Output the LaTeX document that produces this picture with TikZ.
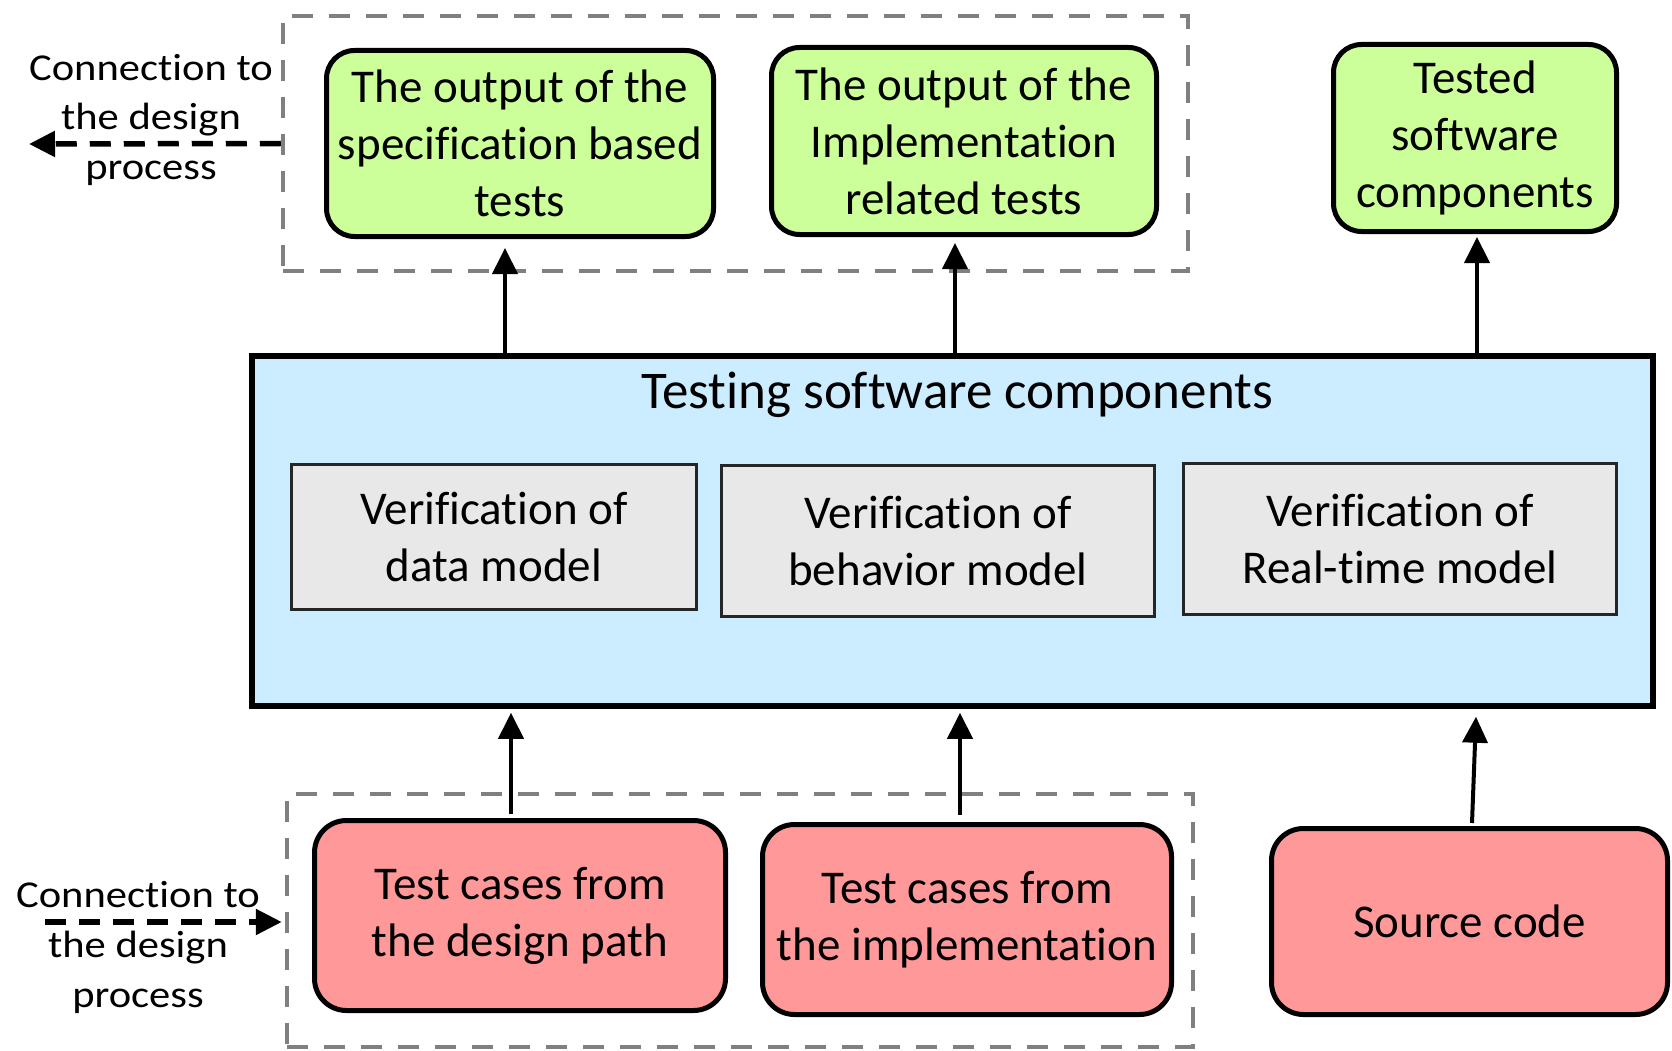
\documentclass[tikz,border=0pt]{standalone}
\usepackage{fontspec}
\setmainfont{Carlito}[Ligatures=NoCommon]
\newfontfamily\labelfont[FakeStretch=1.12,Ligatures=NoCommon]{Carlito}
\usetikzlibrary{arrows.meta}

\definecolor{outgreen}{HTML}{CCFF99}
\definecolor{inred}{HTML}{FF9999}
\definecolor{procblue}{HTML}{CCECFF}
\definecolor{subgray}{HTML}{E8E8E8}
\definecolor{groupgray}{HTML}{808080}

\tikzset{
  outbox/.style={draw=black, line width=5pt, fill=outgreen, rounded corners=28pt,
    align=center, inner sep=0pt, font=\fontsize{47}{57}\selectfont},
  inbox/.style={draw=black, line width=5pt, fill=inred, rounded corners=32pt,
    align=center, inner sep=0pt, font=\fontsize{47}{57}\selectfont},
  subbox/.style={draw=black!85, line width=2.5pt, fill=subgray,
    align=center, inner sep=0pt, font=\fontsize{47}{57}\selectfont},
  groupbox/.style={draw=groupgray, line width=4.5pt, dash pattern=on 21pt off 16pt,
    inner sep=0pt},
  flow/.style={line width=4pt, -{Triangle[length=26pt,width=25pt]}},
  linkflow/.style={line width=5.5pt, dash pattern=on 21pt off 13pt,
    -{Triangle[length=26pt,width=25pt]}},
  linklabel/.style={align=center, inner sep=0pt,
    font=\labelfont\fontsize{38}{50}\selectfont},
}

\begin{document}
\begin{tikzpicture}[x=1pt, y=-1pt]
\useasboundingbox (0,0) rectangle (1672,1051);

% dashed groupings of the design-related outputs and inputs
\node[groupbox, minimum width=905pt, minimum height=255pt] (outgroup) at (735.5,143.5) {};
\node[groupbox, minimum width=906pt, minimum height=253pt] (ingroup) at (740,920.5) {};

% outputs
\node[outbox, minimum width=387pt, minimum height=186pt] (spec) at (520,143.5)
  {The output of the\\specification based\\tests};
\node[outbox, minimum width=385pt, minimum height=187pt] (impl) at (964,141)
  {The output of the\\Implementation\\related tests};
\node[outbox, minimum width=283pt, minimum height=187pt] (tested) at (1475,138)
  {Tested\\software\\components};

% central testing activity
\node[draw=black, line width=5.5pt, fill=procblue, minimum width=1401pt,
  minimum height=350pt, inner sep=0pt] (main) at (952.5,531) {};
\node[anchor=base, inner sep=0pt, font=\fontsize{53}{64}\selectfont] (title)
  at (957,408) {Testing software components};
\node[subbox, minimum width=405pt, minimum height=145pt] (vdata) at (494,537)
  {Verification of\\data model};
\node[subbox, minimum width=433pt, minimum height=151pt] (vbeh) at (938,541)
  {Verification of\\behavior model};
\node[subbox, minimum width=433pt, minimum height=151pt] (vrt) at (1400,539)
  {Verification of\\Real-time model};

% inputs
\node[inbox, minimum width=411pt, minimum height=190pt] (design) at (520,915.5)
  {Test cases from\\the design path};
\node[inbox, minimum width=409pt, minimum height=190pt] (implcases) at (967,919.5)
  {Test cases from\\the implementation};
\node[inbox, minimum width=396pt, minimum height=186pt] (source) at (1469.5,921.5)
  {Source code};

% flows into and out of the testing activity
\draw[flow] ([xshift=-15pt]spec.south |- main.north) -- ([xshift=-15pt,yshift=-9pt]spec.south);
\draw[flow] ([xshift=-9pt]impl.south |- main.north) -- ([xshift=-9pt,yshift=-6pt]impl.south);
\draw[flow] ([xshift=2pt]tested.south |- main.north) -- ([xshift=2pt,yshift=-3pt]tested.south);
\draw[flow] ([xshift=-9pt,yshift=4pt]design.north) -- ([xshift=-9pt,yshift=-4pt]design.north |- main.south);
\draw[flow] ([xshift=-7pt,yshift=7pt]implcases.north) -- ([xshift=-7pt,yshift=-4pt]implcases.north |- main.south);
\draw[flow] ([xshift=2.5pt,yshift=3pt]source.north) -- ([xshift=6.5pt,yshift=-8pt]source.north |- main.south);

% links to the design process (labels anchored on their last line)
\coordinate (outlink) at (29,144);
\coordinate (inlink) at (45,922);
\draw[linkflow] (outgroup.west) -- (outlink);
\draw[linkflow] (inlink) -- ([xshift=-3pt,yshift=-1.5pt]ingroup.west);
\node[linklabel, anchor=base] (outlabel) at (151,180) {Connection to\\the design\\process};
\node[linklabel, anchor=base] (inlabel) at (138,1007) {Connection to\\the design\\process};
\end{tikzpicture}
\end{document}
